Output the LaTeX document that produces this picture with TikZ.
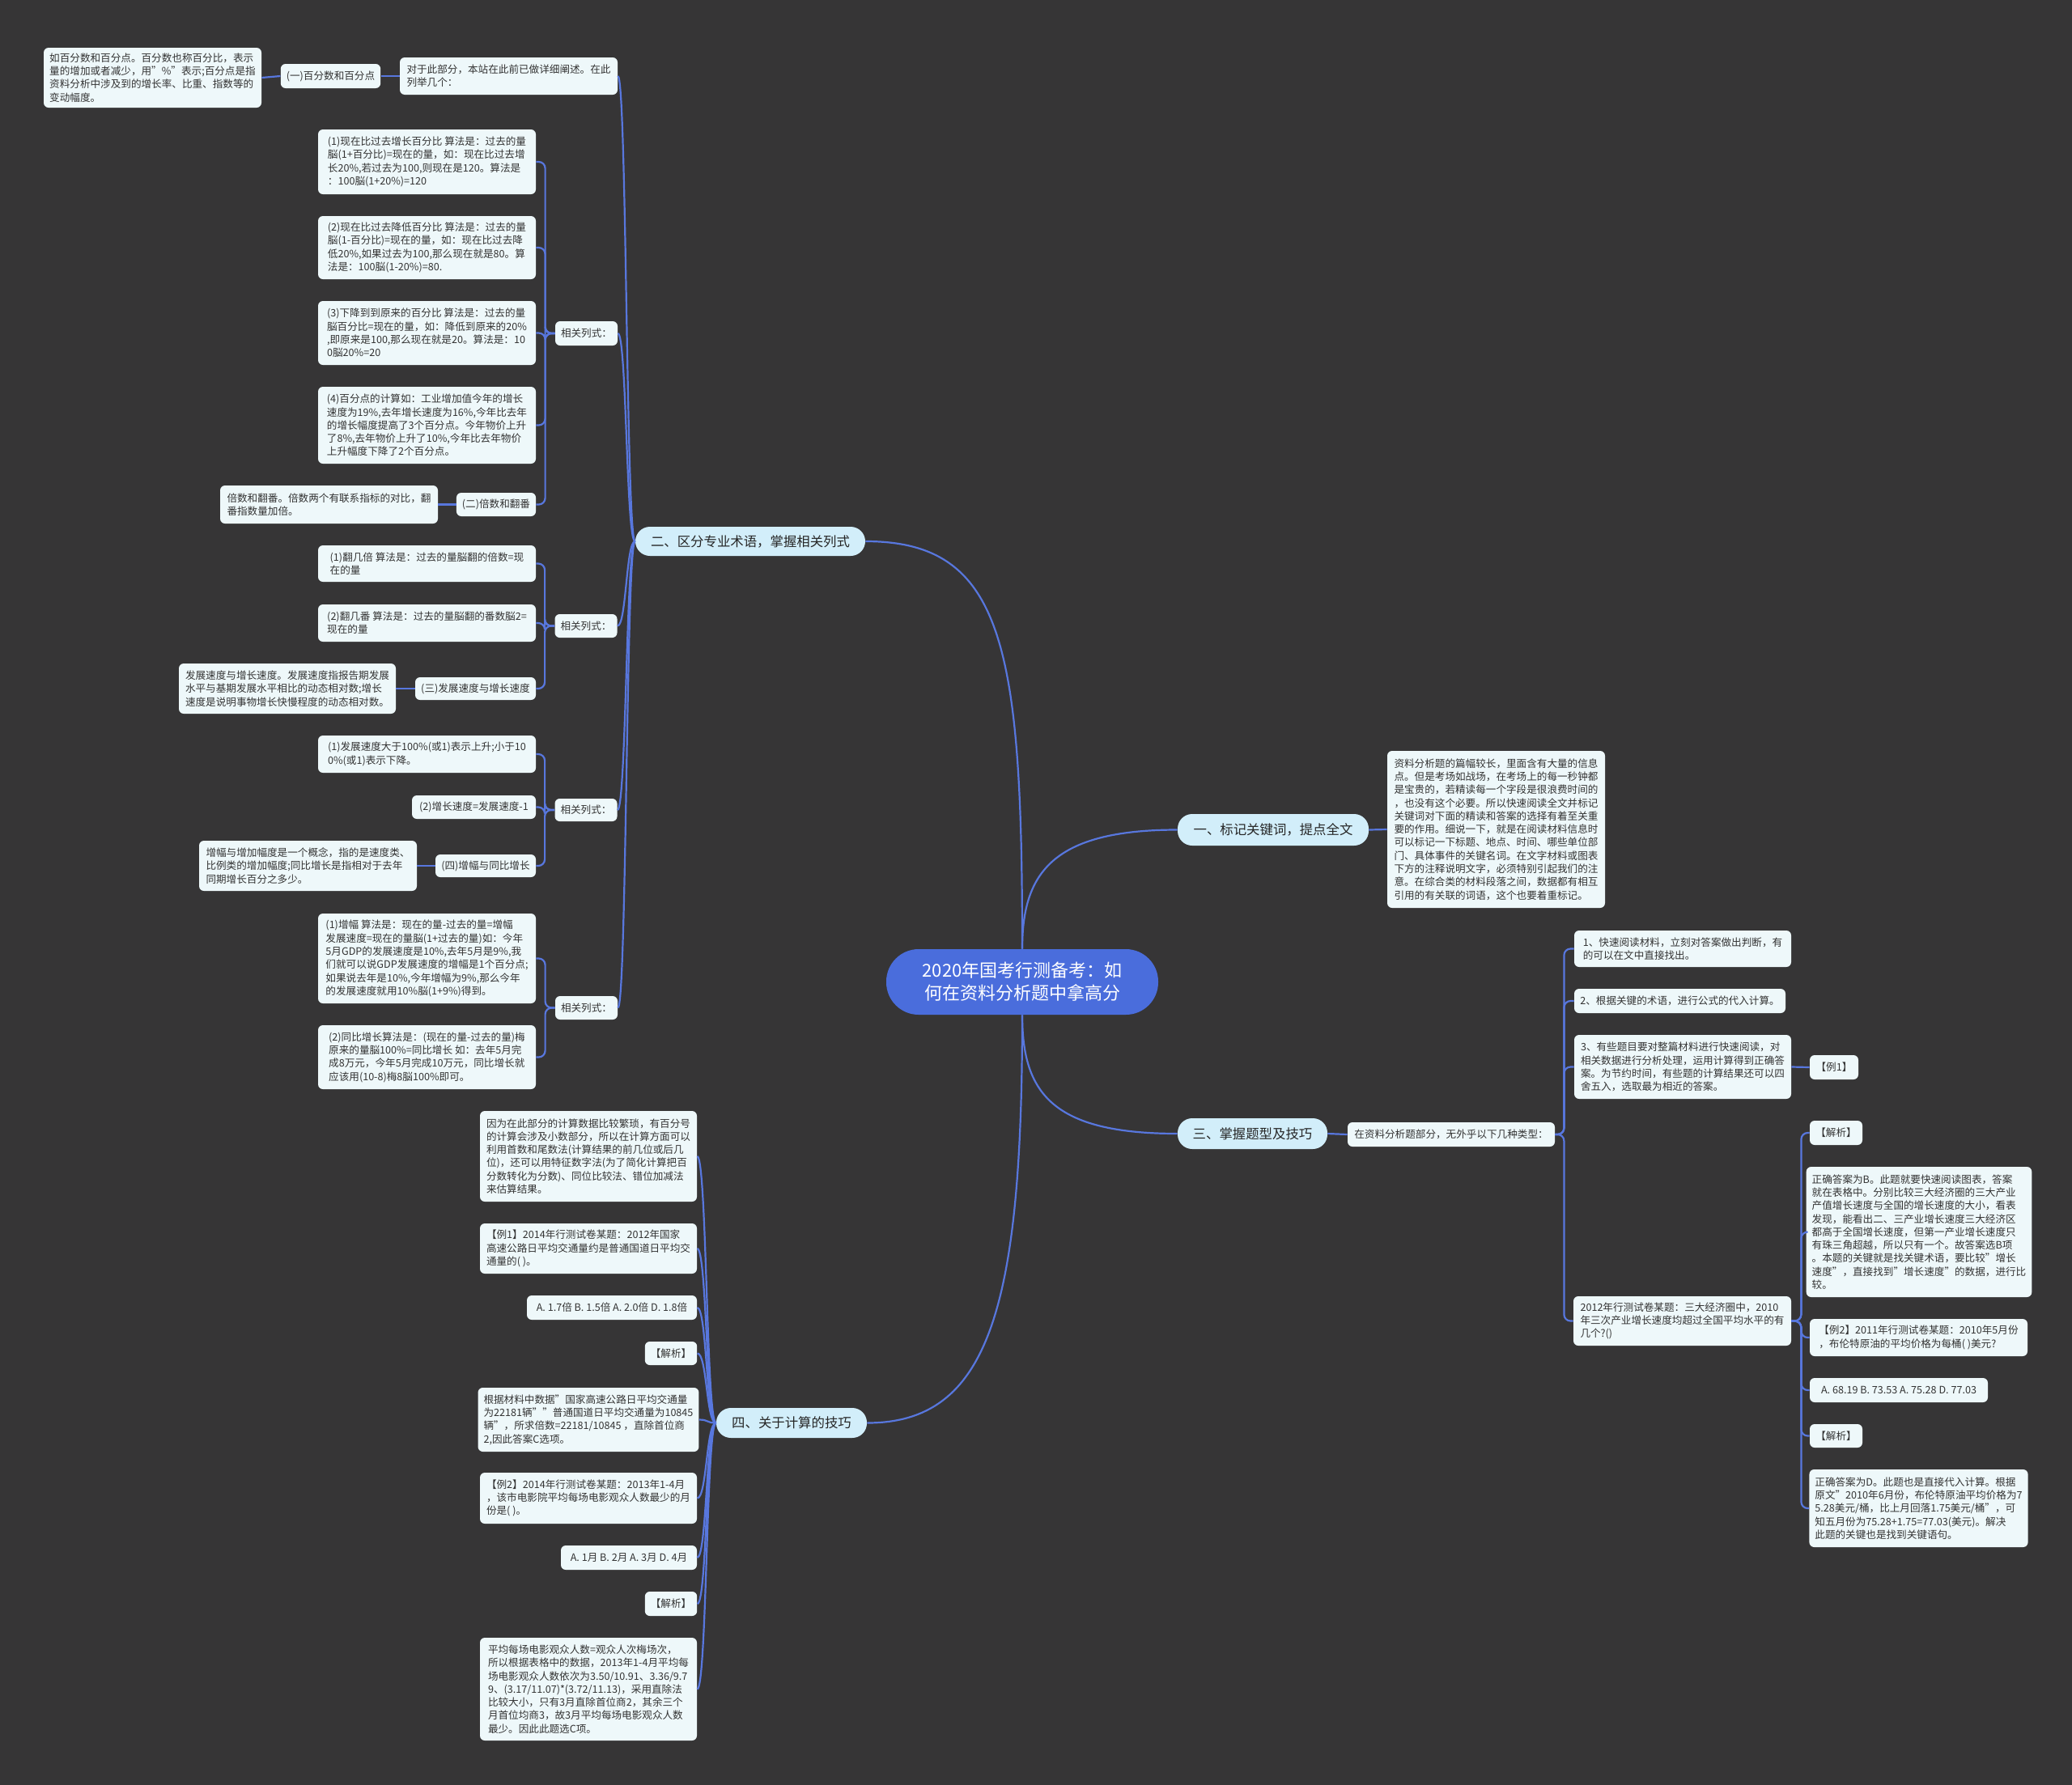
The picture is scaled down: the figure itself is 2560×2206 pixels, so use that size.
\documentclass[tikz,border=0pt]{standalone}
\usepackage{fontspec}
\setmainfont{Noto Sans CJK SC}
\definecolor{bgc}{HTML}{363536}
\definecolor{leafc}{HTML}{EEF8FA}
\definecolor{mainc}{HTML}{D2EEFA}
\definecolor{rootc}{HTML}{4A6DDC}
\definecolor{linec}{HTML}{5877DE}
\definecolor{txtc}{HTML}{333333}
\newcommand\mynode[7]{\node[#6, minimum width={(#4-#2)*0.5pt}, minimum height={(#5-#3)*0.5pt}] (#1) at ({(#2+#4)/2},{(#3+#5)/2}) {#7};}
\begin{document}
\begin{tikzpicture}[x=0.5pt,y=-0.5pt,
  leaf/.style={fill=leafc, rounded corners=3pt, inner xsep=3.5pt, inner ysep=1pt, align=left, text=txtc, font=\fontsize{6.3}{8.15}\selectfont},
  mainnode/.style={fill=mainc, rounded corners=9pt, inner sep=1pt, text=black!85, font=\fontsize{8.2}{10}\selectfont},
  rootnode/.style={fill=rootc, rounded corners=20pt, inner sep=1pt, text=white, align=center, font=\fontsize{11}{14}\selectfont},
  conn/.style={draw=linec, line width=1.1pt, rounded corners=4pt},
  mainconn/.style={draw=linec, line width=1.1pt}]
\fill[bgc] (0,0) rectangle (2560,2206);
\useasboundingbox (0,0) rectangle (2560,2206);

% root and main branches
\mynode{ctr}{1095}{1173}{1431}{1254}{rootnode}{2020年国考行测备考：如\\何在资料分析题中拿高分}
\mynode{n1}{1455}{1006}{1691}{1045}{mainnode}{一、标记关键词，提点全文}
\mynode{n2}{785}{651}{1069}{687}{mainnode}{二、区分专业术语，掌握相关列式}
\mynode{n3}{1455}{1382}{1640}{1420}{mainnode}{三、掌握题型及技巧}
\mynode{n4}{885}{1740}{1071}{1777}{mainnode}{四、关于计算的技巧}

% branch one
\mynode{n1a}{1714}{928}{1983}{1122}{leaf}{资料分析题的篇幅较长，里面含有大量的信息\\点。但是考场如战场，在考场上的每一秒钟都\\是宝贵的，若精读每一个字段是很浪费时间的\\，也没有这个必要。所以快速阅读全文并标记\\关键词对下面的精读和答案的选择有着至关重\\要的作用。细说一下，就是在阅读材料信息时\\可以标记一下标题、地点、时间、哪些单位部\\门、具体事件的关键名词。在文字材料或图表\\下方的注释说明文字，必须特别引起我们的注\\意。在综合类的材料段落之间，数据都有相互\\引用的有关联的词语，这个也要着重标记。}

% branch two
\mynode{n2a}{494}{71}{763}{117}{leaf}{对于此部分，本站在此前已做详细阐述。在此\\列举几个：}
\mynode{n2a1}{347}{79}{470}{109}{leaf}{(一)百分数和百分点}
\mynode{n2a1a}{54}{59}{323}{133}{leaf}{如百分数和百分点。百分数也称百分比，表示\\量的增加或者减少，用"\%"表示;百分点是指\\资料分析中涉及到的增长率、比重、指数等的\\变动幅度。}
\mynode{n2b}{686}{397}{763}{427}{leaf}{相关列式：}
\mynode{n2b1}{393}{160}{662}{240}{leaf}{(1)现在比过去增长百分比 算法是：过去的量\\脳(1+百分比)=现在的量，如：现在比过去增\\长20\%,若过去为100,则现在是120。算法是\\：100脳(1+20\%)=120}
\mynode{n2b2}{393}{267}{662}{345}{leaf}{(2)现在比过去降低百分比 算法是：过去的量\\脳(1-百分比)=现在的量，如：现在比过去降\\低20\%,如果过去为100,那么现在就是80。算\\法是：100脳(1-20\%)=80.}
\mynode{n2b3}{393}{372}{662}{451}{leaf}{(3)下降到到原来的百分比 算法是：过去的量\\脳百分比=现在的量，如：降低到原来的20\%\\,即原来是100,那么现在就是20。算法是：10\\0脳20\%=20}
\mynode{n2b4}{393}{478}{662}{573}{leaf}{(4)百分点的计算如：工业增加值今年的增长\\速度为19\%,去年增长速度为16\%,今年比去年\\的增长幅度提高了3个百分点。今年物价上升\\了8\%,去年物价上升了10\%,今年比去年物价\\上升幅度下降了2个百分点。}
\mynode{n2b5}{564}{609}{662}{638}{leaf}{(二)倍数和翻番}
\mynode{n2b5a}{272}{600}{541}{647}{leaf}{倍数和翻番。倍数两个有联系指标的对比，翻\\番指数量加倍。}
\mynode{n2c}{686}{759}{762}{788}{leaf}{相关列式：}
\mynode{n2c1}{393}{674}{662}{719}{leaf}{(1)翻几倍 算法是：过去的量脳翻的倍数=现\\在的量}
\mynode{n2c2}{393}{747}{662}{793}{leaf}{(2)翻几番 算法是：过去的量脳翻的番数脳2=\\现在的量}
\mynode{n2c3}{513}{837}{662}{865}{leaf}{(三)发展速度与增长速度}
\mynode{n2c3a}{221}{820}{489}{882}{leaf}{发展速度与增长速度。发展速度指报告期发展\\水平与基期发展水平相比的动态相对数;增长\\速度是说明事物增长快慢程度的动态相对数。}
\mynode{n2d}{686}{987}{762}{1015}{leaf}{相关列式：}
\mynode{n2d1}{393}{909}{662}{955}{leaf}{(1)发展速度大于100\%(或1)表示上升;小于10\\0\%(或1)表示下降。}
\mynode{n2d2}{509}{983}{662}{1012}{leaf}{(2)增长速度=发展速度-1}
\mynode{n2d3}{538}{1056}{662}{1084}{leaf}{(四)增幅与同比增长}
\mynode{n2d3a}{246}{1039}{515}{1101}{leaf}{增幅与增加幅度是一个概念，指的是速度类、\\比例类的增加幅度;同比增长是指相对于去年\\同期增长百分之多少。}
\mynode{n2e}{686}{1231}{763}{1260}{leaf}{相关列式：}
\mynode{n2e1}{393}{1129}{662}{1240}{leaf}{(1)增幅 算法是：现在的量-过去的量=增幅\\发展速度=现在的量脳(1+过去的量)如：今年\\5月GDP的发展速度是10\%,去年5月是9\%,我\\们就可以说GDP发展速度的增幅是1个百分点;\\如果说去年是10\%,今年增幅为9\%,那么今年\\的发展速度就用10\%脳(1+9\%)得到。}
\mynode{n2e2}{393}{1267}{662}{1346}{leaf}{(2)同比增长算法是：(现在的量-过去的量)梅\\原来的量脳100\%=同比增长 如：去年5月完\\成8万元，今年5月完成10万元，同比增长就\\应该用(10-8)梅8脳100\%即可。}

% branch three
\mynode{n3a}{1665}{1387}{1921}{1417}{leaf}{在资料分析题部分，无外乎以下几种类型：}
\mynode{n3a1}{1945}{1150}{2213}{1195}{leaf}{1、快速阅读材料，立刻对答案做出判断，有\\的可以在文中直接找出。}
\mynode{n3a2}{1945}{1222}{2206}{1252}{leaf}{2、根据关键的术语，进行公式的代入计算。}
\mynode{n3a3}{1945}{1279}{2213}{1358}{leaf}{3、有些题目要对整篇材料进行快速阅读，对\\相关数据进行分析处理，运用计算得到正确答\\案。为节约时间，有些题的计算结果还可以四\\舍五入，选取最为相近的答案。}
\mynode{n3a3a}{2236}{1304}{2296}{1334}{leaf}{【例1】}
\mynode{n3a4}{1944}{1602}{2213}{1663}{leaf}{2012年行测试卷某题：三大经济圈中，2010\\年三次产业增长速度均超过全国平均水平的有\\几个?()}
\mynode{n3a4a}{2236}{1385}{2301}{1415}{leaf}{【解析】}
\mynode{n3a4b}{2236}{1442}{2506}{1603}{leaf}{正确答案为B。此题就要快速阅读图表，答案\\就在表格中。分别比较三大经济圈的三大产业\\产值增长速度与全国的增长速度的大小，看表\\发现，能看出二、三产业增长速度三大经济区\\都高于全国增长速度，但第一产业增长速度只\\有珠三角超越，所以只有一个。故答案选B项\\。本题的关键就是找关键术语，要比较"增长\\速度"，直接找到"增长速度"的数据，进行比\\较。}
\mynode{n3a4c}{2236}{1630}{2505}{1676}{leaf}{【例2】2011年行测试卷某题：2010年5月份\\，布伦特原油的平均价格为每桶( )美元?}
\mynode{n3a4d}{2236}{1703}{2456}{1733}{leaf}{A. 68.19 B. 73.53 A. 75.28 D. 77.03}
\mynode{n3a4e}{2236}{1760}{2301}{1789}{leaf}{【解析】}
\mynode{n3a4f}{2236}{1816}{2505}{1912}{leaf}{正确答案为D。此题也是直接代入计算。根据\\原文"2010年6月份，布伦特原油平均价格为7\\5.28美元/桶，比上月回落1.75美元/桶"，可\\知五月份为75.28+1.75=77.03(美元)。解决\\此题的关键也是找到关键语句。}

% branch four
\mynode{n4a}{593}{1373}{861}{1485}{leaf}{因为在此部分的计算数据比较繁琐，有百分号\\的计算会涉及小数部分，所以在计算方面可以\\利用首数和尾数法(计算结果的前几位或后几\\位)，还可以用特征数字法(为了简化计算把百\\分数转化为分数)、同位比较法、错位加减法\\来估算结果。}
\mynode{n4b}{593}{1512}{861}{1574}{leaf}{【例1】2014年行测试卷某题：2012年国家\\高速公路日平均交通量约是普通国道日平均交\\通量的( )。}
\mynode{n4c}{651}{1601}{861}{1631}{leaf}{A. 1.7倍 B. 1.5倍 A. 2.0倍 D. 1.8倍}
\mynode{n4d}{797}{1658}{861}{1687}{leaf}{【解析】}
\mynode{n4e}{593}{1715}{861}{1794}{leaf}{根据材料中数据"国家高速公路日平均交通量\\为22181辆""普通国道日平均交通量为10845\\辆"，所求倍数=22181/10845 ，直除首位商\\2,因此答案C选项。}
\mynode{n4f}{593}{1820}{861}{1883}{leaf}{【例2】2014年行测试卷某题：2013年1-4月\\，该市电影院平均每场电影观众人数最少的月\\份是( )。}
\mynode{n4g}{693}{1910}{861}{1940}{leaf}{A. 1月 B. 2月 A. 3月 D. 4月}
\mynode{n4h}{797}{1967}{861}{1997}{leaf}{【解析】}
\mynode{n4i}{593}{2024}{861}{2151}{leaf}{平均每场电影观众人数=观众人次梅场次，\\所以根据表格中的数据，2013年1-4月平均每\\场电影观众人数依次为3.50/10.91、3.36/9.7\\9、(3.17/11.07)*(3.72/11.13)，采用直除法\\比较大小，只有3月直除首位商2，其余三个\\月首位均商3，故3月平均每场电影观众人数\\最少。因此此题选C项。}

% main connectors
\draw[mainconn] (ctr.north) .. controls +(0,-373) and +(171,0) .. (n2.east);
\draw[mainconn] (ctr.north) .. controls +(0,-93) and +(-155,0) .. (n1.west);
\draw[mainconn] (ctr.south) .. controls +(0,96) and +(-155,0) .. (n3.west);
\draw[mainconn] (ctr.south) .. controls +(0,366) and +(149,0) .. (n4.east);

% branch one
\draw[conn] (n1.east) -- (n1a.west);

% branch two
\foreach \c in {n2a,n2b,n2c,n2d,n2e}
  \draw[mainconn] (n2.west) .. controls +(-11,0) and +(11,0) .. (\c.east);
\draw[conn] (n2a.west) -- (n2a1.east);
\draw[conn] (n2a1.west) -- (n2a1a.east);
\foreach \c in {n2b1,n2b2,n2b3,n2b4,n2b5}
  \draw[conn] (n2b.west) -- ++(-12,0) |- (\c.east);
\draw[conn] (n2b5.west) -- (n2b5a.east);
\foreach \c in {n2c1,n2c2,n2c3}
  \draw[conn] (n2c.west) -- ++(-12,0) |- (\c.east);
\draw[conn] (n2c3.west) -- (n2c3a.east);
\foreach \c in {n2d1,n2d2,n2d3}
  \draw[conn] (n2d.west) -- ++(-12,0) |- (\c.east);
\draw[conn] (n2d3.west) -- (n2d3a.east);
\foreach \c in {n2e1,n2e2}
  \draw[conn] (n2e.west) -- ++(-12,0) |- (\c.east);

% branch three
\draw[conn] (n3.east) -- (n3a.west);
\foreach \c in {n3a1,n3a2,n3a3,n3a4}
  \draw[conn] (n3a.east) -- ++(11,0) |- (\c.west);
\draw[conn] (n3a3.east) -- (n3a3a.west);
\foreach \c in {n3a4a,n3a4b,n3a4c,n3a4d,n3a4e,n3a4f}
  \draw[conn] (n3a4.east) -- ++(12,0) |- (\c.west);

% branch four
\foreach \c in {n4a,n4b,n4c,n4d,n4e,n4f,n4g,n4h,n4i}
  \draw[mainconn] (n4.west) .. controls +(-12,0) and +(12,0) .. (\c.east);
\end{tikzpicture}
\end{document}
